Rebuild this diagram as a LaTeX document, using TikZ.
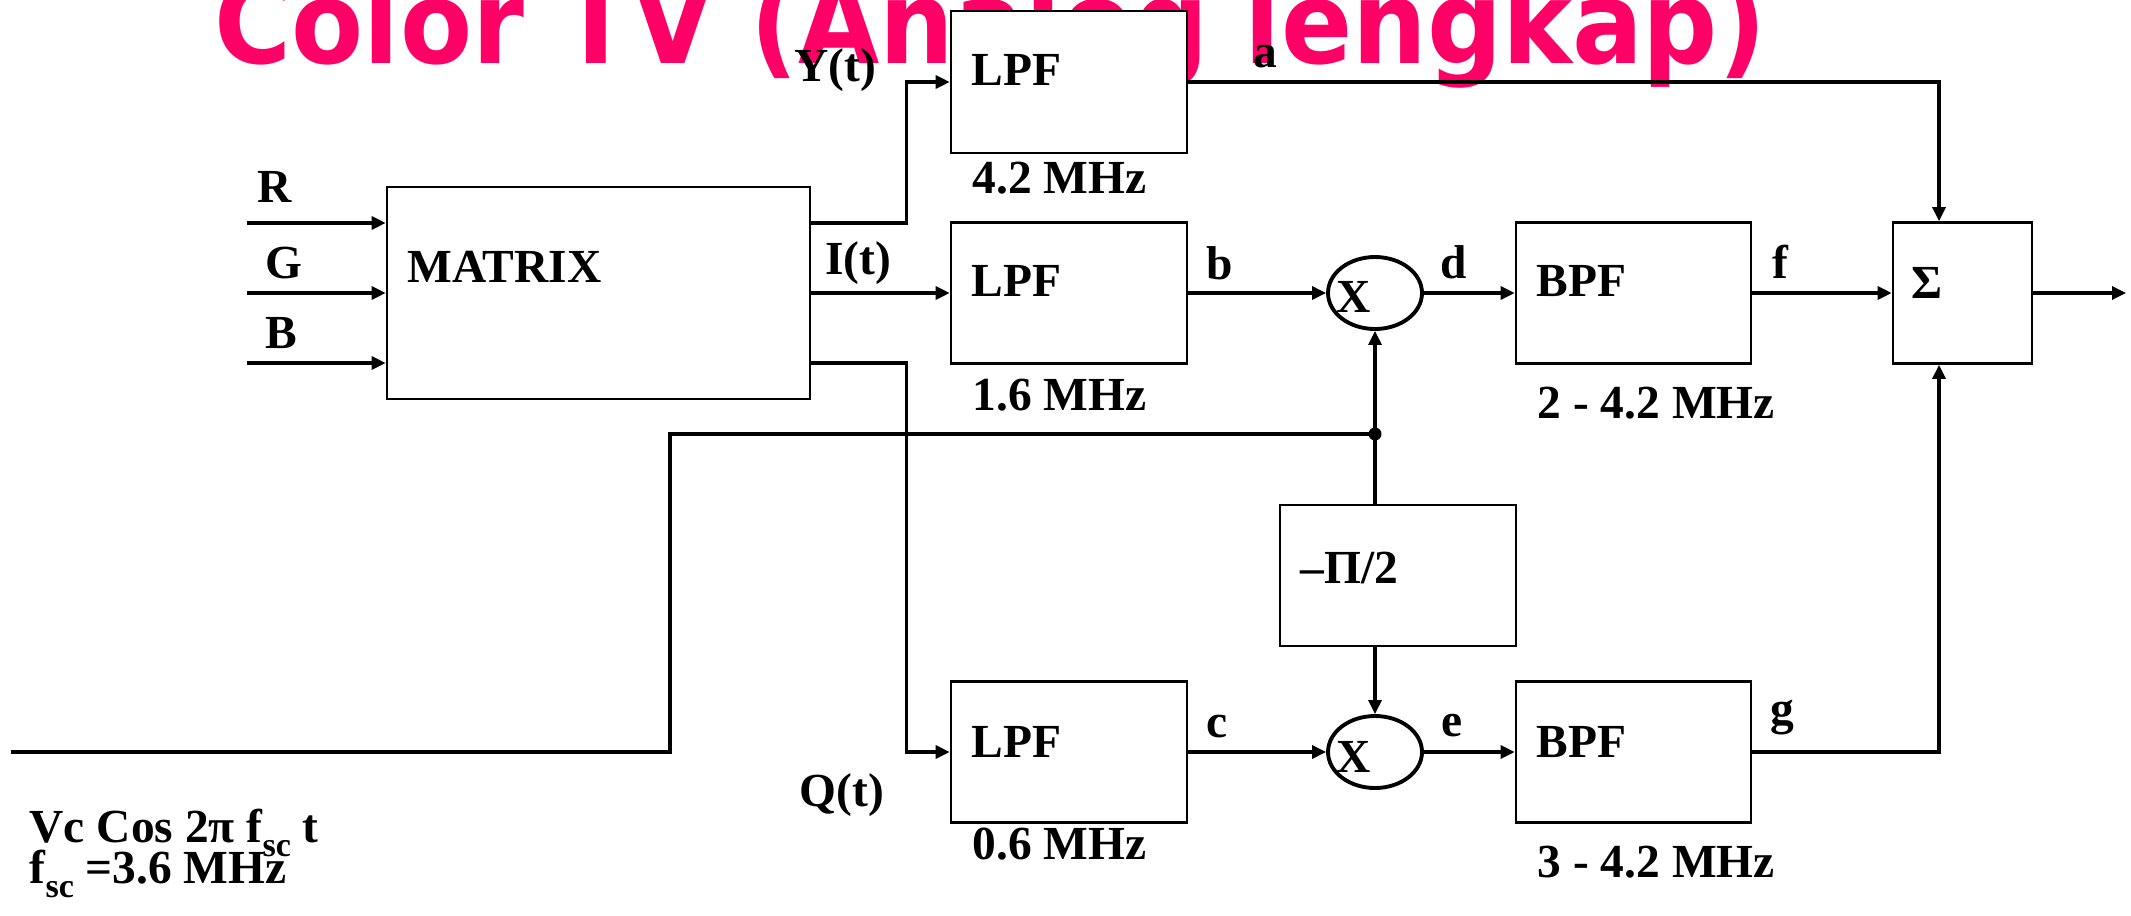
\documentclass[tikz,border=0pt]{standalone}
\usepackage{fontspec}
\usepackage{graphicx}
\setmainfont{Liberation Serif}
\newfontfamily\titlefont{DejaVu Sans}
\usetikzlibrary{positioning, shapes.geometric, arrows.meta}
\definecolor{TitlePink}{RGB}{255, 0, 102}
\newcommand{\subsc}[1]{\raisebox{-4pt}{\fontsize{9.7pt}{10pt}\selectfont #1}}

\begin{document}
\begin{tikzpicture}[
    block/.style={draw, fill=white, line width=0.75pt, minimum width=2.36cm, minimum height=1.41cm, inner sep=0pt},
    mixer/.style={draw, ellipse, fill=white, line width=1.1pt, minimum width=0.94cm, minimum height=0.72cm, inner sep=0pt},
    txt/.style={font=\fontsize{13.5pt}{16pt}\selectfont\bfseries, inner sep=0pt},
    osctxt/.style={font=\fontsize{13.5pt}{16pt}\selectfont\bfseries, inner sep=0pt, anchor=base west},
    sig/.style={line width=0.9pt, -{Triangle[length=0.14cm, width=0.13cm]}},
    wire/.style={line width=0.9pt}
  ]
  \useasboundingbox (0,0) rectangle (21.31,-9.15);

  % Title
  \node[anchor=base west, inner sep=0pt, text=TitlePink] (title) at (2.14,-0.63)
    {\scalebox{0.914}[1]{\titlefont\bfseries\fontsize{32.7pt}{36pt}\selectfont Color TV (Analog lengkap)}};

  % Blocks
  \node[block, minimum width=4.23cm, minimum height=2.12cm] (mtx) at (5.985,-2.93) {};
  \node[block, minimum height=1.42cm] (lpfy) at (10.69,-0.82) {};
  \node[block] (lpfi) at (10.69,-2.93) {};
  \node[block] (lpfq) at (10.69,-7.52) {};
  \node[mixer] (mixi) at (13.75,-2.93) {};
  \node[mixer] (mixq) at (13.75,-7.52) {};
  \node[block, minimum width=2.35cm] (bpfi) at (16.335,-2.93) {};
  \node[block, minimum width=2.35cm] (bpfq) at (16.335,-7.52) {};
  \node[block, minimum width=1.39cm] (sum) at (19.625,-2.93) {};
  \node[block] (shift) at (13.98,-5.755) {};

  % Block texts
  \node[txt, anchor=west] (mtxlbl) at ([xshift=0.21cm, yshift=0.26cm]mtx.west) {MATRIX};
  \node[txt, anchor=west] (lpfylbl) at ([xshift=0.21cm, yshift=0.12cm]lpfy.west) {LPF};
  \node[txt, anchor=west] (lpfilbl) at ([xshift=0.21cm, yshift=0.12cm]lpfi.west) {LPF};
  \node[txt, anchor=west] (lpfqlbl) at ([xshift=0.21cm, yshift=0.10cm]lpfq.west) {LPF};
  \node[txt, anchor=west] (bpfilbl) at ([xshift=0.21cm, yshift=0.12cm]bpfi.west) {BPF};
  \node[txt, anchor=west] (bpfqlbl) at ([xshift=0.21cm, yshift=0.10cm]bpfq.west) {BPF};
  \node[txt, anchor=west] (sumlbl) at ([xshift=0.19cm, yshift=0.10cm]sum.west) {Σ};
  \node[txt, anchor=west] (shiftlbl) at ([xshift=0.21cm, yshift=0.075cm]shift.west) {–Π/2};
  \node[txt] (mixilbl) at ([xshift=-0.21cm, yshift=-0.04cm]mixi.center) {X};
  \node[txt] (mixqlbl) at ([xshift=-0.21cm, yshift=-0.05cm]mixq.center) {X};

  % Cut-off frequencies
  \node[txt, anchor=west] (fy) at (9.72,-1.78) {4.2 MHz};
  \node[txt, anchor=west] (fi) at (9.72,-3.95) {1.6 MHz};
  \node[txt, anchor=west] (fq) at (9.72,-8.44) {0.6 MHz};
  \node[txt, anchor=west] (fbi) at (15.37,-4.03) {2 - 4.2 MHz};
  \node[txt, anchor=west] (fbq) at (15.37,-8.62) {3 - 4.2 MHz};

  % Signal names
  \node[txt] (rlbl) at (2.75,-1.87) {R};
  \node[txt] (glbl) at (2.84,-2.63) {G};
  \node[txt] (blbl) at (2.81,-3.33) {B};
  \node[txt] (ylbl) at (8.35,-0.70) {Y(t)};
  \node[txt] (ilbl) at (8.58,-2.63) {I(t)};
  \node[txt] (qlbl) at (8.42,-7.95) {Q(t)};
  \node[txt] (albl) at (12.65,-0.57) {a};
  \node[txt] (bsig) at (12.20,-2.63) {b};
  \node[txt] (csig) at (12.17,-7.27) {c};
  \node[txt] (dsig) at (14.54,-2.62) {d};
  \node[txt] (esig) at (14.52,-7.26) {e};
  \node[txt] (fsig) at (17.80,-2.62) {f};
  \node[txt] (gsig) at (17.82,-7.18) {g};

  % Carrier text
  \node[osctxt] (osc) at (0.29,-8.42) {Vc Cos 2π f\subsc{sc} t};
  \node[osctxt] (fsc) at (0.29,-8.83) {f\subsc{sc} =3.6 MHz};

  % Inputs
  \coordinate (rin) at (2.47,-2.23);
  \coordinate (gin) at (2.47,-2.93);
  \coordinate (bin) at (2.47,-3.63);
  \draw[sig] (rin) -- (rin -| mtx.west);
  \draw[sig] (gin) -- (gin -| mtx.west);
  \draw[sig] (bin) -- (bin -| mtx.west);

  % Y, I, Q
  \draw[sig] ([yshift=0.7cm]mtx.east) -- ++(0.95,0) |- (lpfy.west);
  \draw[sig] (mtx.east) -- (lpfi.west);
  \draw[sig] ([yshift=-0.7cm]mtx.east) -- ++(0.95,0) |- (lpfq.west);

  % Chroma paths
  \draw[sig] (lpfi.east) -- (mixi.west);
  \draw[sig] (lpfq.east) -- (mixq.west);
  \draw[sig] (mixi.east) -- (bpfi.west);
  \draw[sig] (mixq.east) -- (bpfq.west);
  \draw[sig] (bpfi.east) -- (sum.west);
  \draw[sig] (lpfy.east) -| ([xshift=-0.235cm]sum.north);
  \draw[sig] (bpfq.east) -| ([xshift=-0.235cm]sum.south);
  \coordinate (out) at (21.26,-2.93);
  \draw[sig] (sum.east) -- (out);

  % Carrier
  \coordinate (lo) at (0.11,-7.52);
  \coordinate (tap) at (13.75,-4.34);
  \draw[wire] (lo) -- ++(6.59,0) |- (tap);
  \fill (tap) circle (0.065);
  \draw[sig] (tap) -- (mixi.south);
  \draw[wire] (tap) -- (tap |- shift.north);
  \draw[sig] (tap |- shift.south) -- (mixq.north);
\end{tikzpicture}
\end{document}
